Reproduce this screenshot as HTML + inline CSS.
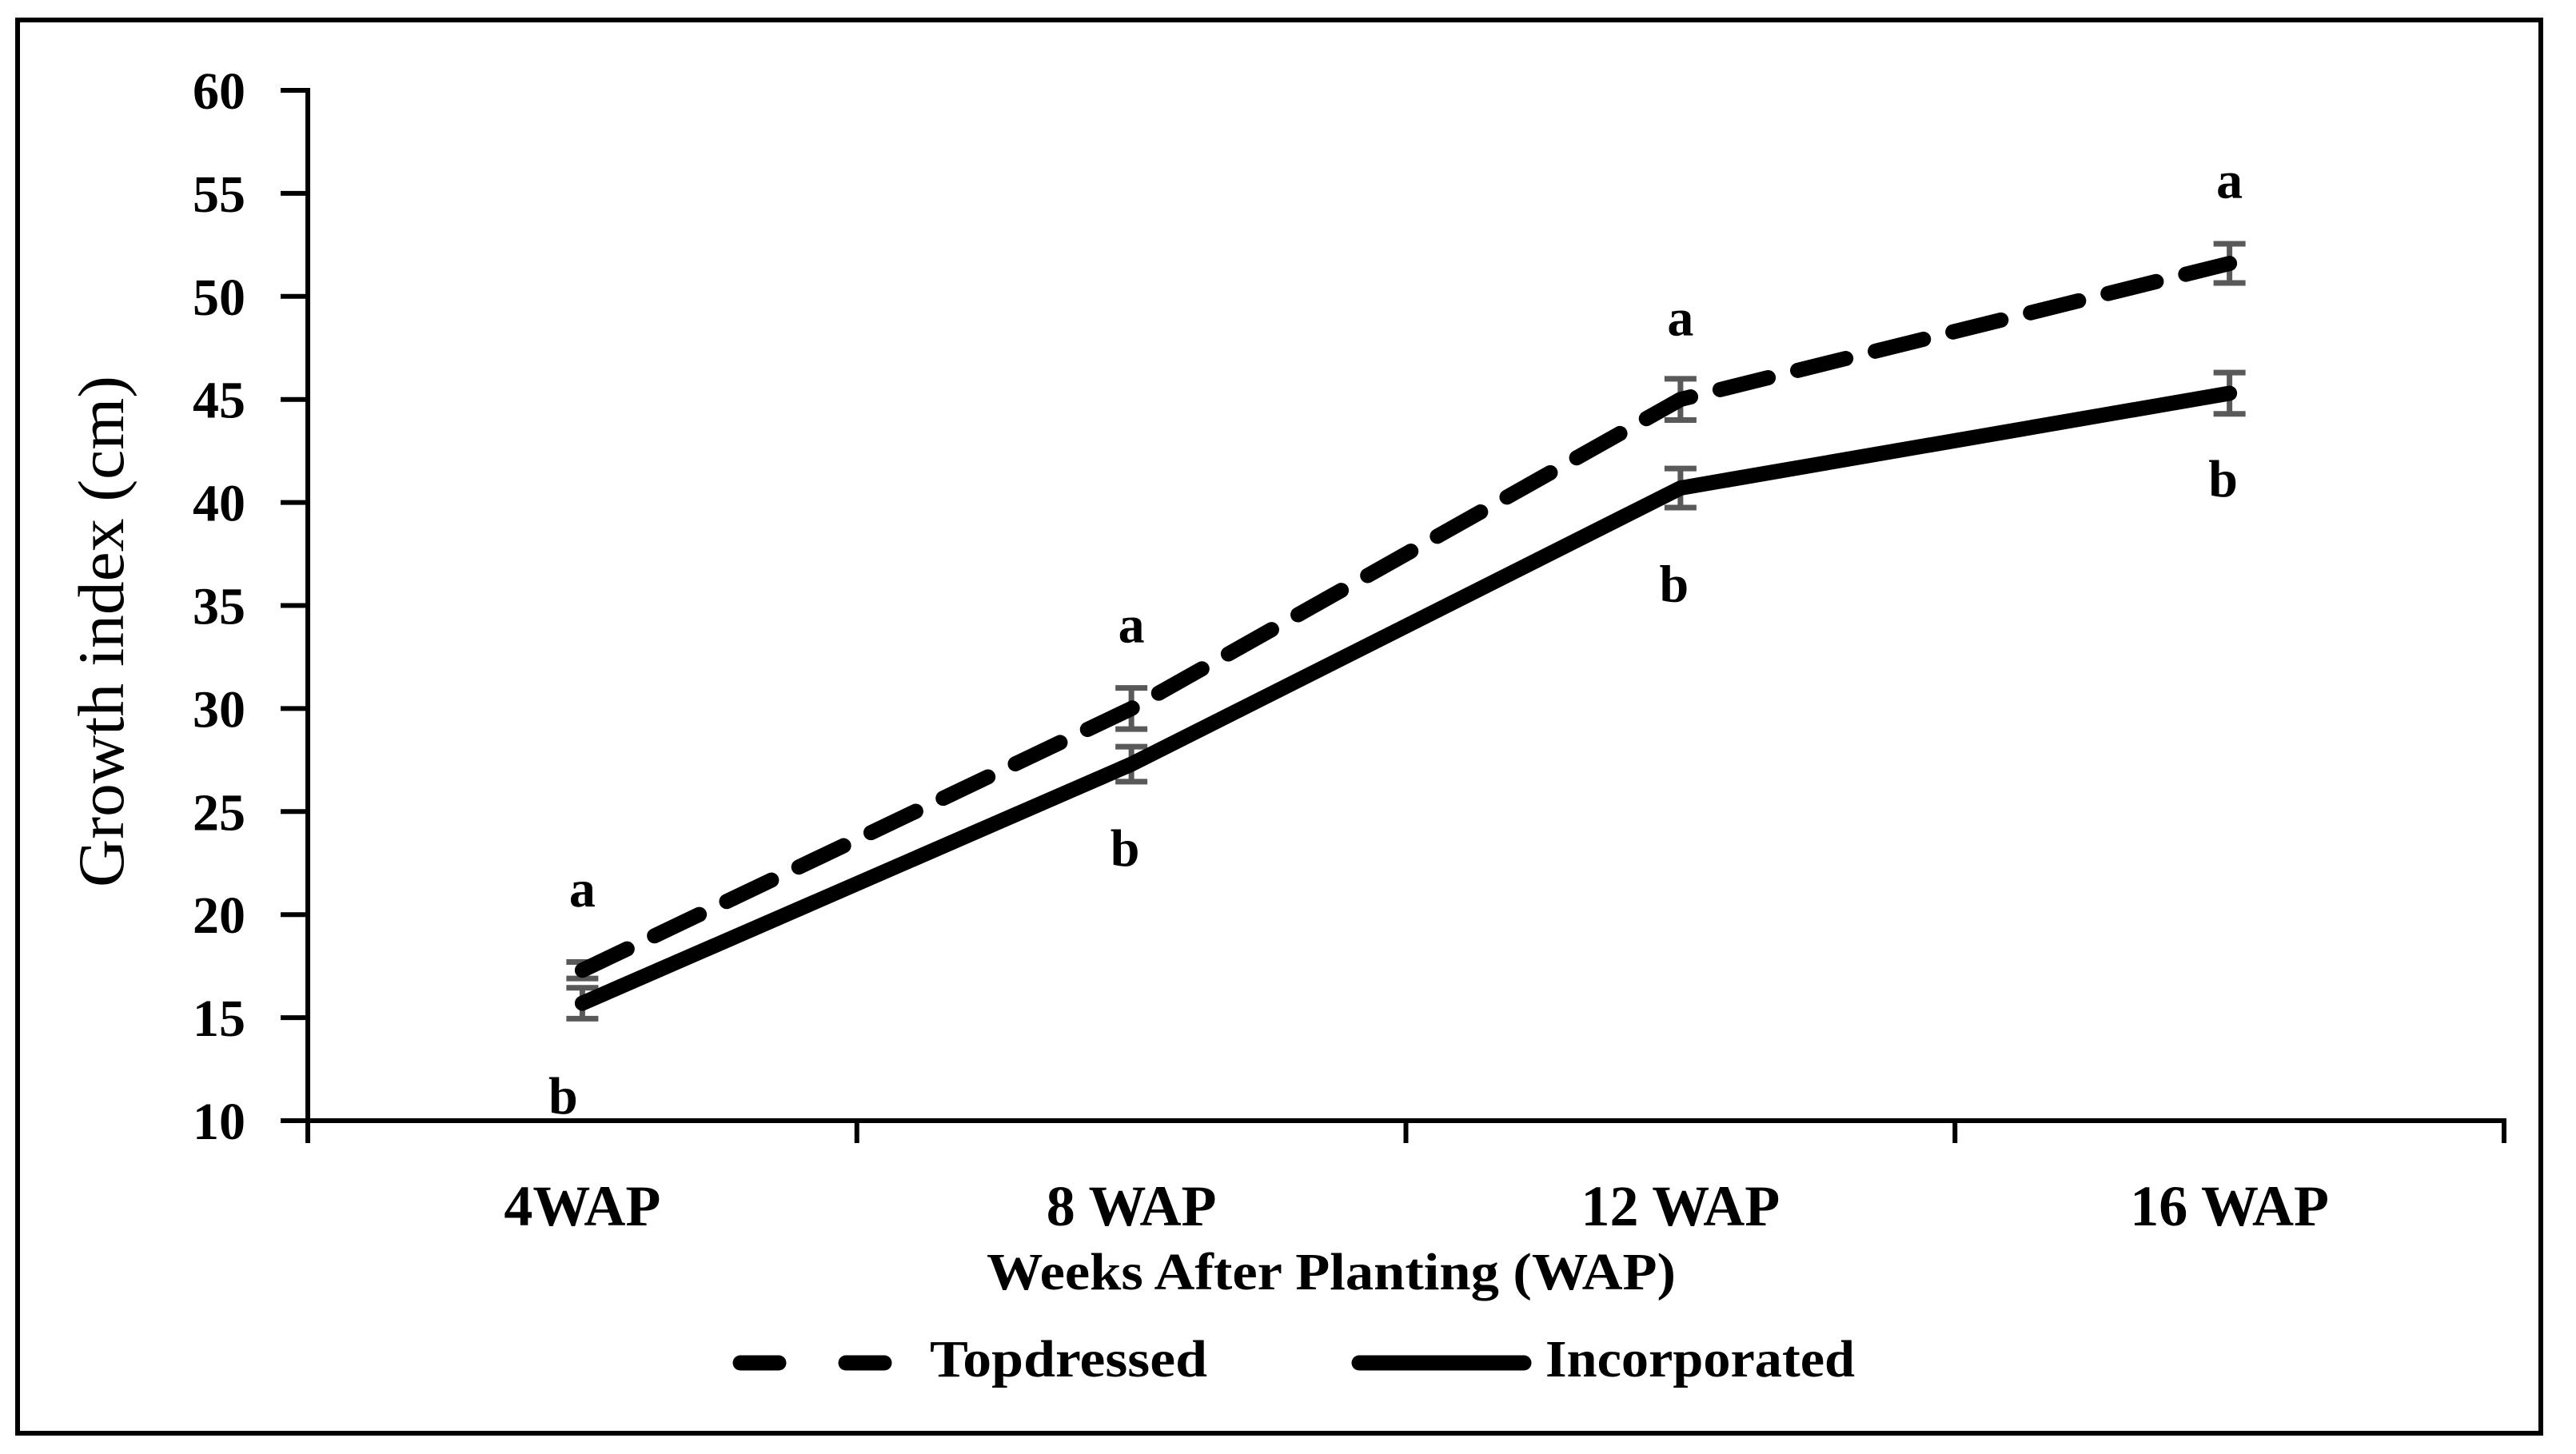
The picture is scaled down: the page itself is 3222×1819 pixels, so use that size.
<!DOCTYPE html>
<html><head><meta charset="utf-8"><style>
html,body{margin:0;padding:0;background:#fff;}
svg{display:block;}
text{font-family:"Liberation Serif",serif;fill:#000;}
</style></head><body>
<svg id="chart" width="3222" height="1819" viewBox="0 0 3222 1819" xmlns="http://www.w3.org/2000/svg">
<rect x="22" y="25" width="3156" height="1768" fill="#fff" stroke="#000" stroke-width="6"/>
<g id="axes"></g>
<g id="series"></g>
<g id="labels"></g>
<text transform="translate(154,790) rotate(-90)" text-anchor="middle" font-size="82" textLength="640" lengthAdjust="spacingAndGlyphs">Growth index (cm)</text>
<text x="1665" y="1613" text-anchor="middle" font-size="66" font-weight="bold" textLength="862" lengthAdjust="spacingAndGlyphs">Weeks After Planting (WAP)</text>
<g>
<line x1="926" y1="1705" x2="1111" y2="1705" stroke="#000" stroke-width="19" stroke-linecap="round" stroke-dasharray="48 84"/>
<text x="1163" y="1722" font-size="66" font-weight="bold" textLength="347" lengthAdjust="spacingAndGlyphs">Topdressed</text>
<line x1="1700" y1="1705" x2="1906" y2="1705" stroke="#000" stroke-width="19" stroke-linecap="round"/>
<text x="1933" y="1722" font-size="66" font-weight="bold" textLength="387" lengthAdjust="spacingAndGlyphs">Incorporated</text>
</g>
</svg>
<script>
const categories = ["4WAP", "8 WAP", "12 WAP", "16 WAP"];
const topdressed = [17.3, 30.0, 45.0, 51.6];
const topdressedErr = [0.4, 1.0, 1.0, 0.95];
const incorporated = [15.7, 27.3, 40.7, 45.3];
const incorporatedErr = [0.75, 0.85, 0.95, 1.0];
const topLetters = ["a", "a", "a", "a"];
const botLetters = ["b", "b", "b", "b"];
const yTicks = [10, 15, 20, 25, 30, 35, 40, 45, 50, 55, 60];

const NS = "http://www.w3.org/2000/svg";
const X0 = 385, X1 = 3132, Y0 = 1402, Y1 = 113, YMIN = 10, YMAX = 60;
const band = (X1 - X0) / categories.length;
function xs(i){ return X0 + band * (i + 0.5); }
function ys(v){ return Y0 - (v - YMIN) / (YMAX - YMIN) * (Y0 - Y1); }
function mk(tag, attrs, parent){
  const e = document.createElementNS(NS, tag);
  for (const k in attrs) e.setAttribute(k, attrs[k]);
  parent.appendChild(e);
  return e;
}
const axes = document.getElementById('axes');
const series = document.getElementById('series');
const labels = document.getElementById('labels');

let yAxis = mk('line', {x1: X0, y1: Y1 - 3, x2: X0, y2: Y0 + 28, stroke: '#000', 'stroke-width': 6}, axes);


let xAxis = mk('line', {x1: X0 - 34, y1: Y0, x2: X1 + 3, y2: Y0, stroke: '#000', 'stroke-width': 6}, axes);



yTicks.forEach(function(t){
  const y = ys(t);
  const tk = mk('line', {x1: X0 - 34, y1: y, x2: X0, y2: y, stroke: '#000', 'stroke-width': 6}, axes);
  
  
  const lb = mk('text', {x: 307, y: y + 23, 'text-anchor': 'end', 'font-size': 66, 'font-weight': 'bold'}, axes);
  lb.textContent = t;
  
  
});

for (let i = 1; i <= categories.length; i++){
  const x = X0 + band * i;
  const tk = mk('line', {x1: x, y1: Y0, x2: x, y2: Y0 + 28, stroke: '#000', 'stroke-width': 6}, axes);
  
  
}
categories.forEach(function(c, i){
  const lb = mk('text', {x: xs(i), y: 1533, 'text-anchor': 'middle', 'font-size': 72, 'font-weight': 'bold'}, axes);
  lb.textContent = c;
  
  
});

function errBars(vals, errs, name){
  vals.forEach(function(v, i){
    const x = xs(i), yt = ys(v + errs[i]), yb = ys(v - errs[i]);
    const g = mk('g', {stroke: '#595959', 'stroke-width': 7}, series);
    
    
    mk('line', {x1: x, y1: yt, x2: x, y2: yb}, g);
    mk('line', {x1: x - 20, y1: yt, x2: x + 20, y2: yt}, g);
    mk('line', {x1: x - 20, y1: yb, x2: x + 20, y2: yb}, g);
  });
}
errBars(topdressed, topdressedErr, 'topdressed-error-bar');
errBars(incorporated, incorporatedErr, 'incorporated-error-bar');

function pts(vals){ return vals.map(function(v, i){ return xs(i) + ',' + ys(v); }).join(' '); }
const lineI = mk('polyline', {points: pts(incorporated), fill: 'none', stroke: '#000', 'stroke-width': 19, 'stroke-linejoin': 'round', 'stroke-linecap': 'round'}, series);


const lineT = mk('polyline', {points: pts(topdressed), fill: 'none', stroke: '#000', 'stroke-width': 19, 'stroke-linejoin': 'round', 'stroke-linecap': 'round', 'stroke-dasharray': '62 38'}, series);



const topOffsets = [80, 83, 80, 82];
const botOffsets = [138, 127, 142, 129];
topdressed.forEach(function(v, i){
  const a = mk('text', {x: xs(i), y: ys(v) - topOffsets[i], 'text-anchor': 'middle', 'font-size': 66, 'font-weight': 'bold'}, labels);
  a.textContent = topLetters[i];
  
  
});
incorporated.forEach(function(v, i){
  const b = mk('text', {x: xs(i) - (i === 0 ? 24 : 8), y: ys(v) + botOffsets[i], 'text-anchor': 'middle', 'font-size': 66, 'font-weight': 'bold'}, labels);
  b.textContent = botLetters[i];
  
  
});
</script>
</body></html>
